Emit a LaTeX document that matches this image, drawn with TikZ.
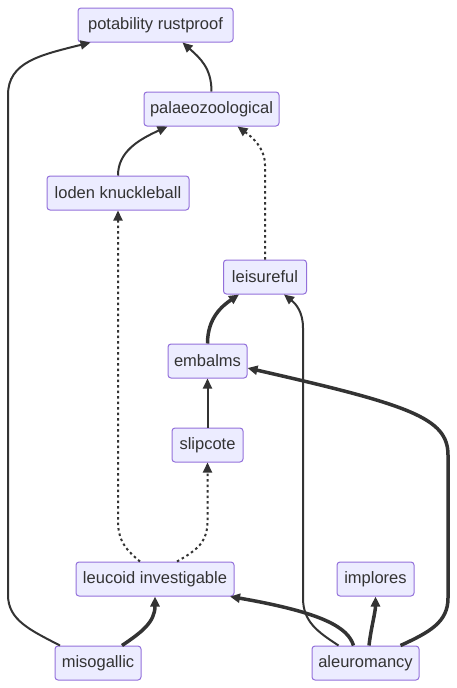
\documentclass[tikz,border=0pt]{standalone}
\usepackage{fontspec}
\setmainfont{Liberation Sans}
\usetikzlibrary{arrows.meta}
\definecolor{nodefill}{HTML}{ECECFF}
\definecolor{nodeline}{HTML}{9370DB}
\definecolor{ink}{HTML}{333333}
\tikzset{
  box/.style={draw=nodeline, fill=nodefill, line width=1pt, rounded corners=3pt,
    minimum height=34pt, inner sep=0pt, text=ink,
    font=\fontsize{16.5}{19}\selectfont},
  link/.style={draw=ink, line width=2pt, -{Triangle[length=10pt,width=9pt]}},
  boldlink/.style={link, line width=3.5pt},
  dotlink/.style={link, dash pattern=on 2.5pt off 3pt},
}
\begin{document}
\begin{tikzpicture}[x=1pt, y=-1pt]
\useasboundingbox (0,0) rectangle (457,688);
\node[box, minimum width=155pt] (pot) at (155.5,25) {potability rustproof};
\node[box, minimum width=135pt] (pal) at (211.5,109) {palaeozoological};
\node[box, minimum width=142pt] (lod) at (118,193) {loden knuckleball};
\node[box, minimum width=83pt] (lei) at (265,277) {leisureful};
\node[box, minimum width=79pt] (emb) at (207.5,361) {embalms};
\node[box, minimum width=71pt] (sli) at (207.5,445) {slipcote};
\node[box, minimum width=158pt] (leu) at (155,579) {leucoid investigable};
\node[box, minimum width=77pt] (imp) at (375.5,579) {implores};
\node[box, minimum width=86pt] (mis) at (98,663) {misogallic};
\node[box, minimum width=107pt] (ale) at (365.5,663) {aleuromancy};

% misogallic -> potability
\draw[link] ([xshift=-38pt]mis.north) .. controls (30,630) and (8,620) .. (8,595)
  -- (8,95) .. controls (8,62) and (40,55) .. ([xshift=-65pt]pot.south);
% palaeozoological -> potability
\draw[link] (pal.north) .. controls (211.5,68) and (200,58) .. ([xshift=27pt]pot.south);
% loden -> palaeozoological
\draw[link] (lod.north) .. controls (118,152) and (138,140) .. ([xshift=-44pt]pal.south);
% leisureful -> palaeozoological (dotted)
\draw[dotlink] (lei.north) -- (265,165) .. controls (265,148) and (252,137) .. ([xshift=26pt]pal.south);
% leucoid -> loden (dotted)
\draw[dotlink] ([xshift=-15pt]leu.north) .. controls (124,548) and (118,540) .. (118,520) -- (lod.south);
% leucoid -> slipcote (dotted)
\draw[dotlink] ([xshift=22pt]leu.north) .. controls (201,548) and (207.5,540) .. (207.5,520) -- (sli.south);
% slipcote -> embalms
\draw[link] (sli.north) -- (emb.south);
% embalms -> leisureful
\draw[boldlink] (emb.north) .. controls (207.5,318) and (222,306) .. ([xshift=-26pt]lei.south);
% aleuromancy -> leisureful
\draw[link] ([xshift=-27pt]ale.north) .. controls (318,632) and (303,622) .. (303,598)
  -- (303,328) .. controls (303,312) and (296,304) .. ([xshift=19pt]lei.south);
% aleuromancy -> embalms
\draw[boldlink] ([xshift=35pt]ale.north) .. controls (430,632) and (448,622) .. (448,598)
  -- (448,455) .. controls (448,418) and (410,405) .. ([yshift=-7pt]emb.east);
% aleuromancy -> leucoid
\draw[boldlink] ([xshift=-12pt]ale.north) .. controls (348,628) and (325,613) .. ([xshift=75pt]leu.south);
% aleuromancy -> implores
\draw[boldlink] ([xshift=3.5pt]ale.north) .. controls (371,628) and (375.5,612) .. (imp.south);
% misogallic -> leucoid
\draw[boldlink] ([xshift=24pt]mis.north) .. controls (142,632) and (155,622) .. (leu.south);
\end{tikzpicture}
\end{document}
